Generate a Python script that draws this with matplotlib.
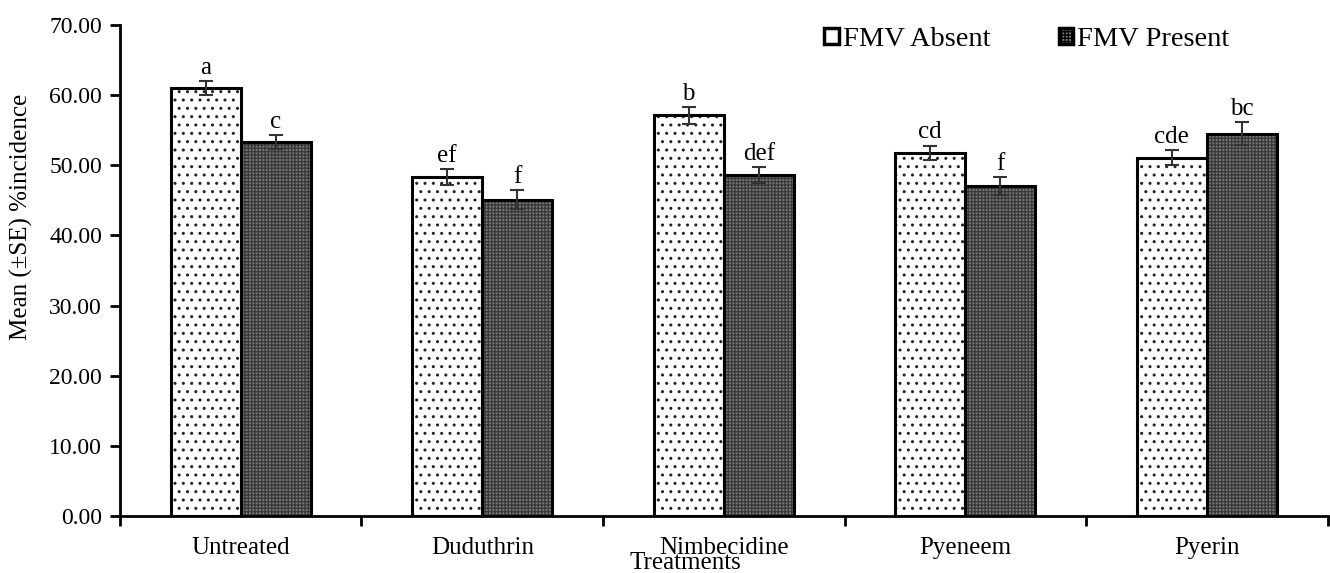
import numpy as np
import matplotlib.pyplot as plt
from matplotlib.patches import Patch

plt.rcParams['font.family'] = ['Liberation Serif', 'DejaVu Serif']
plt.rcParams['hatch.linewidth'] = 1.0

treatments = ['Untreated', 'Duduthrin', 'Nimbecidine', 'Pyeneem', 'Pyerin']
absent = [61.0, 48.3, 57.1, 51.8, 51.1]
present = [53.3, 45.1, 48.6, 47.0, 54.5]
absent_se = [1.0, 1.1, 1.2, 1.0, 1.0]
present_se = [1.0, 1.4, 1.2, 1.3, 1.6]
absent_letters = ['a', 'ef', 'b', 'cd', 'cde']
present_letters = ['c', 'f', 'def', 'f', 'bc']

fig = plt.figure(figsize=(13.3, 5.73), dpi=100)
ax = fig.add_axes([0.0902, 0.0995, 0.908, 0.857])

x = np.arange(len(treatments))
w = 0.29

# fill + hatch first, outline drawn on top
ax.bar(x - w/2, absent, w, color='white', edgecolor='#222222', hatch='..', linewidth=0)
ax.bar(x + w/2, present, w, color='#7a7a7a', edgecolor='#3a3a3a', hatch='+++++', linewidth=0)
ax.bar(x - w/2, absent, w, fill=False, edgecolor='black', linewidth=2.2)
ax.bar(x + w/2, present, w, fill=False, edgecolor='black', linewidth=2.2)

ax.errorbar(x - w/2, absent, yerr=absent_se, fmt='none', ecolor='#333333', capsize=5, elinewidth=1.5, capthick=1.5)
ax.errorbar(x + w/2, present, yerr=present_se, fmt='none', ecolor='#333333', capsize=5, elinewidth=1.5, capthick=1.5)

for i in range(len(x)):
    ax.text(x[i] - w/2, absent[i] + absent_se[i] + 0.3, absent_letters[i], ha='center', va='bottom', fontsize=18)
    ax.text(x[i] + w/2, present[i] + present_se[i] + 0.3, present_letters[i], ha='center', va='bottom', fontsize=18)

ax.set_xlim(-0.5, 4.5)
ax.set_ylim(0, 70)
ax.set_yticks(np.arange(0, 71, 10))
ax.set_yticklabels([f'{v:.2f}' for v in np.arange(0, 71, 10)])
ax.set_xticks(np.arange(-0.5, 5, 1))
ax.set_xticklabels([])
ax.set_xticks(x, minor=True)
ax.set_xticklabels(treatments, minor=True)
ax.tick_params(axis='x', which='minor', length=0, pad=15, labelsize=18)
ax.tick_params(axis='x', which='major', length=7, width=2, direction='out')
ax.tick_params(axis='y', length=7, width=2, direction='out', labelsize=17, pad=6)

for s in ['top', 'right']:
    ax.spines[s].set_visible(False)
ax.spines['left'].set_linewidth(2)
ax.spines['bottom'].set_linewidth(2)

ax.set_ylabel('Mean (±SE) %incidence', fontsize=18)
ax.yaxis.set_label_coords(-0.072, 0.609)
# the reference has this title tucked just under the category labels
ax.text(0.468, -0.1075, 'Treatments', transform=ax.transAxes, ha='center', va='baseline', fontsize=18)

handles = [Patch(facecolor='white', edgecolor='black', linewidth=2.5),
           Patch(facecolor='#7a7a7a', edgecolor='black', hatch='+++++', linewidth=2.5)]
ax.legend(handles, ['FMV Absent', 'FMV Present'], ncol=2, frameon=False, fontsize=20.5,
          loc='upper right', bbox_to_anchor=(0.94, 1.047), handlelength=0.5, handleheight=0.5,
          handletextpad=0.15, columnspacing=2.4)

fig.savefig('out.png', dpi=100)
